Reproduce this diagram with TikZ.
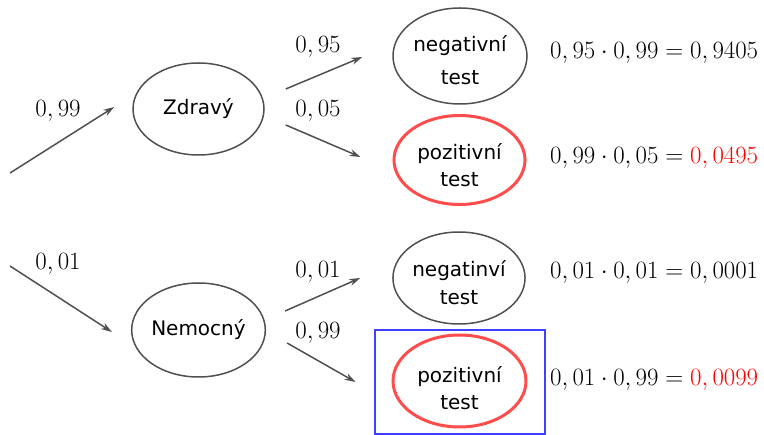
\documentclass[tikz,border=0pt]{standalone}
\usepackage{fontspec}
\setsansfont{DejaVu Sans}
\usetikzlibrary{shapes.geometric,arrows.meta}
\definecolor{linegray}{HTML}{505050}
\definecolor{hitred}{HTML}{FF4C4C}
\definecolor{boxblue}{HTML}{4040FF}
\begin{document}
\begin{tikzpicture}[x=1pt,y=-1pt,
  state/.style={ellipse,draw=linegray,line width=1.5pt,inner sep=0pt,
    font=\sffamily\fontsize{20}{28}\selectfont,align=center},
  hit/.style={state,draw=hitred,line width=3pt},
  branch/.style={draw=linegray,line width=1.5pt,-{Stealth[length=11pt,width=7pt]}},
  prob/.style={font=\fontsize{23}{28}\selectfont,inner sep=0pt},
  result/.style={prob,anchor=west}]
\useasboundingbox (0,0) rectangle (764,435);

% states (the struts push the two-line labels slightly below centre)
\node[state,minimum width=131pt,minimum height=92pt] (zdravy) at (198.5,109) {Zdravý};
\node[state,minimum width=131pt,minimum height=94pt] (nemocny) at (198.5,330) {Nemocný};
\node[state,minimum width=134pt,minimum height=96pt,font=\sffamily\fontsize{20}{33}\selectfont] (neg1) at (460,56) {\rule{0pt}{25pt}negativní\\test};
\node[hit,minimum width=131pt,minimum height=89pt,font=\sffamily\fontsize{20}{27}\selectfont] (poz1) at (459.5,160) {\rule{0pt}{27pt}pozitivní\\test};
\node[state,minimum width=130pt,minimum height=92pt] (neg2) at (459,278) {\rule{0pt}{26pt}negatinví\\test};
\node[hit,minimum width=133pt,minimum height=92pt,font=\sffamily\fontsize{20}{27}\selectfont] (poz2) at (459.5,381) {\rule{0pt}{30pt}pozitivní\\test};

% highlight frame
\draw[boxblue,line width=2.5pt] (375,330) rectangle (545,434);

% branches
\coordinate (s1) at (10,173);
\coordinate (s2) at (10,266);
\draw[branch] (s1) -- ([xshift=-18pt,yshift=2pt]zdravy.west);
\draw[branch] (s2) -- ([xshift=-19pt,yshift=-2pt]nemocny.west);
\draw[branch] ([shift={(21pt,20pt)}]zdravy.east) -- ([shift={(-30pt,-1pt)}]neg1.west);
\draw[branch] ([shift={(21pt,-16pt)}]zdravy.east) -- ([shift={(-32pt,3pt)}]poz1.west);
\draw[branch] ([shift={(19pt,19pt)}]nemocny.east) -- ([shift={(-32pt,0pt)}]neg2.west);
\draw[branch] ([shift={(21pt,-13pt)}]nemocny.east) -- ([shift={(-36pt,-1pt)}]poz2.west);

% branch probabilities
\node[prob] (p1) at (58,111) {$0,99$};
\node[prob] (p2) at (58,264) {$0,01$};
\node[prob] (p3) at (318,47) {$0,95$};
\node[prob] (p4) at (318,111) {$0,05$};
\node[prob] (p5) at (318,272) {$0,01$};
\node[prob] (p6) at (318,333) {$0,99$};

% path products
\node[result] (r1) at (550,53) {$0,95\cdot 0,99=0,9405$};
\node[result] (r2) at (550,158) {$0,99\cdot 0,05=\textcolor{red}{0,0495}$};
\node[result] (r3) at (550,273) {$0,01\cdot 0,01=0,0001$};
\node[result] (r4) at (550,380) {$0,01\cdot 0,99=\textcolor{red}{0,0099}$};
\end{tikzpicture}
\end{document}
